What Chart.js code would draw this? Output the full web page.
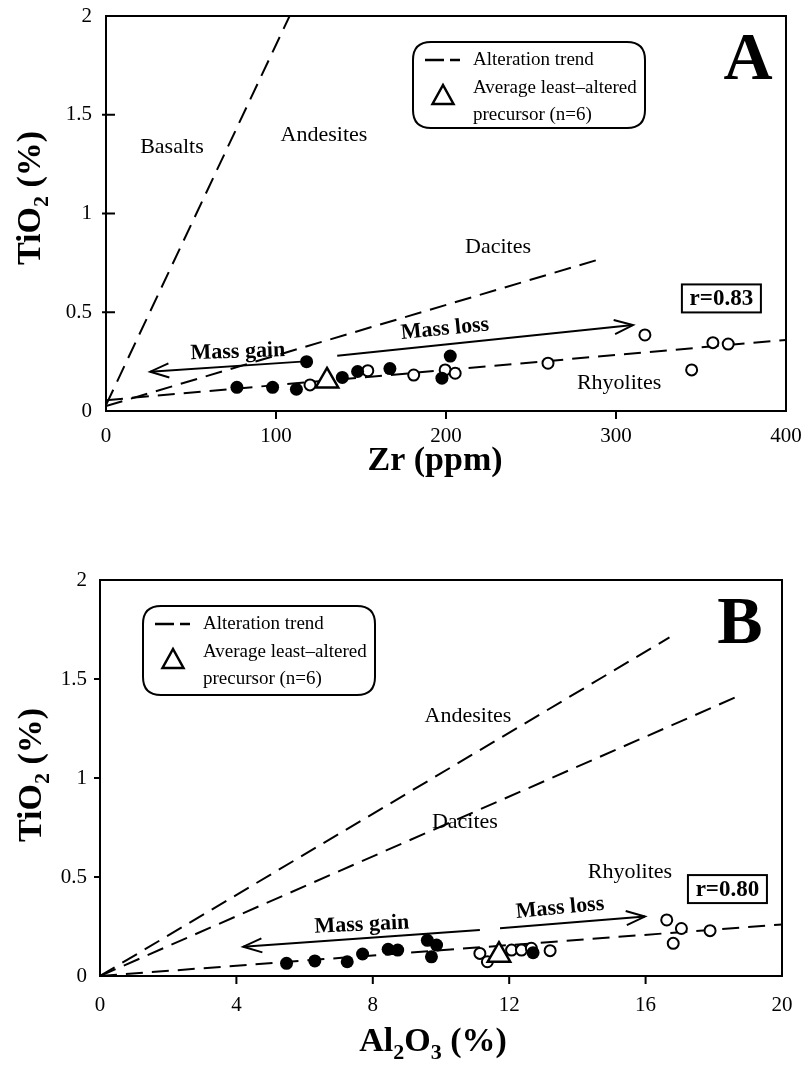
<!DOCTYPE html>
<html><head><meta charset="utf-8">
<script src="https://cdn.jsdelivr.net/npm/chart.js@4.4.1/dist/chart.umd.min.js"></script>
<style>
html,body{margin:0;padding:0;background:#fff;width:805px;height:1068px;overflow:hidden}
canvas{position:absolute;left:0}
#cA{top:0}#cB{top:534px}
</style></head><body>
<canvas id="cA" width="805" height="534"></canvas>
<canvas id="cB" width="805" height="534"></canvas>
<script>
// ---------- Panel A : TiO2 vs Zr ----------
const aZrTicks = [0, 100, 200, 300, 400];
const aTiTicks = [0, 0.5, 1, 1.5, 2];
const aFilledZr = [77, 98, 112, 118, 139, 148, 167, 197.6, 202.5];
const aFilledTi = [0.12, 0.12, 0.11, 0.25, 0.17, 0.2, 0.215, 0.166, 0.278];
const aHollowZr = [120, 154, 181, 199.5, 205.4, 260, 317, 344.5, 357, 366];
const aHollowTi = [0.132, 0.204, 0.182, 0.208, 0.191, 0.242, 0.385, 0.208, 0.346, 0.339];
const aPrecursorZr = [130];
const aPrecursorTi = [0.152];
const aTrendZr = [0, 400];
const aTrendTi = [0.055, 0.36];
const aBasaltLineZr = [0, 108];
const aBasaltLineTi = [0.03, 2];
const aDaciteLineZr = [0, 289];
const aDaciteLineTi = [0.025, 0.765];
const aGainZr = [115, 26];
const aGainTi = [0.25, 0.199];
const aLossZr = [136, 310];
const aLossTi = [0.28, 0.435];
const aR = 'r=0.83';

// ---------- Panel B : TiO2 vs Al2O3 ----------
const bAlTicks = [0, 4, 8, 12, 16, 20];
const bTiTicks = [0, 0.5, 1, 1.5, 2];
const bFilledAl = [5.47, 6.3, 7.25, 7.7, 8.45, 8.73, 9.6, 9.87, 9.72, 12.7];
const bFilledTi = [0.064, 0.076, 0.072, 0.111, 0.135, 0.131, 0.18, 0.156, 0.097, 0.118];
const bHollowAl = [11.14, 11.36, 12.07, 12.36, 12.65, 13.2, 16.62, 17.05, 16.81, 17.89];
const bHollowTi = [0.114, 0.072, 0.131, 0.131, 0.14, 0.128, 0.283, 0.24, 0.165, 0.229];
const bPrecursorAl = [11.7];
const bPrecursorTi = [0.105];
const bTrendAl = [0, 20];
const bTrendTi = [0, 0.26];
const bAndesiteLineAl = [0, 16.7];
const bAndesiteLineTi = [0, 1.71];
const bDaciteLineAl = [0, 18.67];
const bDaciteLineTi = [0, 1.41];
const bGainAl = [11.14, 4.2];
const bGainTi = [0.232, 0.148];
const bLossAl = [11.73, 15.98];
const bLossTi = [0.241, 0.3];
const bR = 'r=0.80';

const FF = "'Liberation Serif','Times New Roman',serif";
Chart.defaults.font.family = FF;
Chart.defaults.color = '#000';

const pts = (xs, ys) => xs.map((x, i) => ({x, y: ys[i]}));

function dashed(xs, ys) {
  return {type: 'line', data: pts(xs, ys), borderColor: '#000', borderWidth: 2,
    borderDash: [17, 9], pointRadius: 0, showLine: true, fill: false, order: 3};
}
function filled(xs, ys) {
  return {type: 'scatter', data: pts(xs, ys), pointRadius: 6.5, pointBackgroundColor: '#000',
    pointBorderColor: '#000', pointBorderWidth: 0, order: 1};
}
function hollow(xs, ys) {
  return {type: 'scatter', data: pts(xs, ys), pointRadius: 5.5, pointBackgroundColor: '#fff',
    pointBorderColor: '#000', pointBorderWidth: 2, order: 2};
}
function tri(xs, ys) {
  return {type: 'scatter', data: pts(xs, ys), pointStyle: 'triangle', pointRadius: 13,
    pointBackgroundColor: '#fff', pointBorderColor: '#000', pointBorderWidth: 2.5, order: 0};
}

function roundRect(ctx, x, y, w, h, r) {
  ctx.beginPath();
  ctx.moveTo(x + r, y); ctx.lineTo(x + w - r, y); ctx.quadraticCurveTo(x + w, y, x + w, y + r);
  ctx.lineTo(x + w, y + h - r); ctx.quadraticCurveTo(x + w, y + h, x + w - r, y + h);
  ctx.lineTo(x + r, y + h); ctx.quadraticCurveTo(x, y + h, x, y + h - r);
  ctx.lineTo(x, y + r); ctx.quadraticCurveTo(x, y, x + r, y); ctx.closePath();
}
function arrow(ctx, x1, y1, x2, y2) {
  ctx.lineWidth = 2; ctx.strokeStyle = '#000'; ctx.setLineDash([]);
  ctx.beginPath(); ctx.moveTo(x1, y1); ctx.lineTo(x2, y2); ctx.stroke();
  const a = Math.atan2(y2 - y1, x2 - x1), L = 20, w = 0.36;
  ctx.beginPath();
  ctx.moveTo(x2 - L * Math.cos(a - w), y2 - L * Math.sin(a - w));
  ctx.lineTo(x2, y2);
  ctx.lineTo(x2 - L * Math.cos(a + w), y2 - L * Math.sin(a + w));
  ctx.stroke();
}
function subText(ctx, parts, cx, cy, size, angle) {
  ctx.save(); ctx.translate(cx, cy); ctx.rotate(angle || 0);
  ctx.fillStyle = '#000'; ctx.textAlign = 'left'; ctx.textBaseline = 'alphabetic';
  const fonts = parts.map(p => `bold ${p[1] ? Math.round(size * 0.66) : size}px ${FF}`);
  const widths = parts.map((p, i) => { ctx.font = fonts[i]; return ctx.measureText(p[0]).width; });
  let x = -widths.reduce((a, b) => a + b, 0) / 2;
  parts.forEach((p, i) => { ctx.font = fonts[i]; ctx.fillText(p[0], x, size * 0.33 + (p[1] ? size * 0.24 : 0)); x += widths[i]; });
  ctx.restore();
}
function label(ctx, text, x, y, font, angle) {
  ctx.save(); ctx.translate(x, y); ctx.rotate(angle || 0);
  ctx.font = font; ctx.fillStyle = '#000'; ctx.textAlign = 'center'; ctx.textBaseline = 'middle';
  ctx.fillText(text, 0, 0); ctx.restore();
}

function makeChart(id, P) {
  const deco = {
    id: 'deco',
    afterDraw(chart) {
      const ctx = chart.ctx, ca = chart.chartArea;
      const sx = chart.scales.x, sy = chart.scales.y;
      const X = v => sx.getPixelForValue(v), Y = v => sy.getPixelForValue(v);
      ctx.save();
      ctx.setLineDash([]); ctx.strokeStyle = '#000'; ctx.lineWidth = 2;
      ctx.strokeRect(ca.left, ca.top, ca.right - ca.left, ca.bottom - ca.top);
      // tick marks
      ctx.beginPath();
      P.xTicks.slice(1, -1).forEach(v => { ctx.moveTo(X(v), ca.bottom); ctx.lineTo(X(v), ca.bottom + 8); });
      P.yTicks.slice(1, -1).forEach(v => { ctx.moveTo(ca.left - P.yTickOut, Y(v)); ctx.lineTo(ca.left + P.yTickIn, Y(v)); });
      ctx.stroke();
      // arrows
      arrow(ctx, X(P.gain[0][0]), Y(P.gain[1][0]), X(P.gain[0][1]), Y(P.gain[1][1]));
      arrow(ctx, X(P.loss[0][0]), Y(P.loss[1][0]), X(P.loss[0][1]), Y(P.loss[1][1]));
      // field and arrow labels
      P.fields.forEach(f => label(ctx, f[0], X(f[1]), Y(f[2]), `22px ${FF}`));
      label(ctx, 'Mass gain', X(P.gainLbl[0]), Y(P.gainLbl[1]), `bold 22px ${FF}`, P.gainLbl[2] * Math.PI / 180);
      label(ctx, 'Mass loss', X(P.lossLbl[0]), Y(P.lossLbl[1]), `bold 22px ${FF}`, P.lossLbl[2] * Math.PI / 180);
      // r box
      const rx = X(P.rPos[0]), ry = Y(P.rPos[1]);
      ctx.lineWidth = 2; ctx.strokeRect(rx - 39.5, ry - 14, 79, 28);
      label(ctx, P.r, rx, ry + 1, `bold 23px ${FF}`);
      // legend
      const L = P.legend;
      ctx.lineWidth = 2; roundRect(ctx, L.x, L.y, L.w, L.h, 18); ctx.stroke();
      ctx.lineWidth = 2.5; ctx.beginPath();
      ctx.moveTo(L.x + 12, L.y + 18); ctx.lineTo(L.x + 31, L.y + 18);
      ctx.moveTo(L.x + 37, L.y + 18); ctx.lineTo(L.x + 47, L.y + 18); ctx.stroke();
      ctx.beginPath();
      const tx = L.x + 30, ty = L.y + 54;
      ctx.moveTo(tx, ty - 11); ctx.lineTo(tx - 10.5, ty + 8); ctx.lineTo(tx + 10.5, ty + 8); ctx.closePath(); ctx.stroke();
      ctx.font = `19px ${FF}`; ctx.textAlign = 'left'; ctx.textBaseline = 'middle'; ctx.fillStyle = '#000';
      ctx.fillText('Alteration trend', L.x + 60, L.y + 18);
      ctx.fillText('Average least\u2013altered', L.x + 60, L.y + 46);
      ctx.fillText('precursor (n=6)', L.x + 60, L.y + 73);
      // panel letter
      label(ctx, P.letter[0], P.letter[1], P.letter[2], `bold 68px ${FF}`);
      // axis titles
      subText(ctx, [['TiO', 0], ['2', 1], [' (%)', 0]], P.yTitle[0], P.yTitle[1], 34, -Math.PI / 2);
      subText(ctx, P.xTitleParts, P.xTitle[0], P.xTitle[1], 34, 0);
      ctx.restore();
    }
  };
  return new Chart(document.getElementById(id), {
    data: {datasets: [
      ...P.lines.map(l => dashed(l[0], l[1])),
      filled(P.filled[0], P.filled[1]),
      hollow(P.hollow[0], P.hollow[1]),
      tri(P.prec[0], P.prec[1])
    ]},
    options: {
      responsive: false, animation: false, devicePixelRatio: 1, events: [],
      layout: {padding: {left: 0, right: 805 - P.area.right, top: P.area.top, bottom: 534 - P.area.bottom - 40}},
      plugins: {legend: {display: false}, tooltip: {enabled: false}},
      scales: {
        x: {type: 'linear', min: P.xTicks[0], max: P.xTicks[P.xTicks.length - 1],
          afterBuildTicks: s => { s.ticks = P.xTicks.map(v => ({value: v})); },
          afterFit: s => { s.height = 40; s.paddingLeft = 0; s.paddingRight = 0; },
          grid: {display: false, drawTicks: false}, border: {display: false},
          ticks: {font: {size: 21}, color: '#000', padding: P.xPad, maxRotation: 0,
            callback: (v) => String(v)}},
        y: {type: 'linear', min: P.yTicks[0], max: P.yTicks[P.yTicks.length - 1],
          afterBuildTicks: s => { s.ticks = P.yTicks.map(v => ({value: v})); },
          afterFit: s => { s.width = P.area.left; s.paddingTop = 0; s.paddingBottom = 0; },
          grid: {display: false, drawTicks: false}, border: {display: false},
          ticks: {font: {size: 21}, color: '#000', padding: P.yPad, callback: (v) => String(v)}}
      }
    },
    plugins: [deco]
  });
}

makeChart('cA', {
  area: {left: 106, right: 786, top: 16, bottom: 411},
  xTicks: aZrTicks, yTicks: aTiTicks, xPad: 13, yPad: 14, yTickOut: 4, yTickIn: 9,
  lines: [[aTrendZr, aTrendTi], [aBasaltLineZr, aBasaltLineTi], [aDaciteLineZr, aDaciteLineTi]],
  filled: [aFilledZr, aFilledTi], hollow: [aHollowZr, aHollowTi], prec: [aPrecursorZr, aPrecursorTi],
  gain: [aGainZr, aGainTi], loss: [aLossZr, aLossTi],
  fields: [['Basalts', 38.8, 1.337], ['Andesites', 128.2, 1.397], ['Dacites', 230.6, 0.83], ['Rhyolites', 301.8, 0.142]],
  gainLbl: [77.6, 0.299, -2], lossLbl: [199.4, 0.415, -5.6],
  rPos: [362, 0.57], r: aR,
  legend: {x: 413, y: 42, w: 232, h: 86},
  letter: ['A', 748, 61],
  yTitle: [29, 198], xTitle: [435, 459],
  xTitleParts: [['Zr (ppm)', 0]]
});

makeChart('cB', {
  area: {left: 100, right: 782, top: 46, bottom: 442},
  xTicks: bAlTicks, yTicks: bTiTicks, xPad: 17, yPad: 13, yTickOut: 6, yTickIn: 0,
  lines: [[bTrendAl, bTrendTi], [bAndesiteLineAl, bAndesiteLineTi], [bDaciteLineAl, bDaciteLineTi]],
  filled: [bFilledAl, bFilledTi], hollow: [bHollowAl, bHollowTi], prec: [bPrecursorAl, bPrecursorTi],
  gain: [bGainAl, bGainTi], loss: [bLossAl, bLossTi],
  fields: [['Andesites', 10.79, 1.313], ['Dacites', 10.7, 0.778], ['Rhyolites', 15.54, 0.525]],
  gainLbl: [7.68, 0.258, -2.6], lossLbl: [13.49, 0.343, -5.4],
  rPos: [18.4, 0.439], r: bR,
  legend: {x: 143, y: 72, w: 232, h: 89},
  letter: ['B', 740, 91],
  yTitle: [30, 241], xTitle: [433, 506],
  xTitleParts: [['Al', 0], ['2', 1], ['O', 0], ['3', 1], [' (%)', 0]]
});
</script>
</body></html>
